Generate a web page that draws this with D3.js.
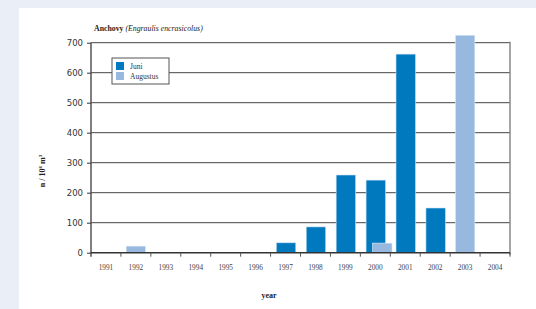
<!DOCTYPE html>
<html>
<head>
<meta charset="utf-8">
<script src="https://cdn.jsdelivr.net/npm/d3@7"></script>
<style>
  body { margin: 0; background: #e9eef7; }
  svg { display: block; }
  text { font-family: "Liberation Serif", "DejaVu Serif", serif; }
</style>
</head>
<body>
<div id="chart"></div>
<script>
const years = ["1991","1992","1993","1994","1995","1996","1997","1998","1999","2000","2001","2002","2003","2004"];
const juni = [0, 0, 0, 0, 0, 0, 33, 86, 259, 242, 662, 149, 0, 0];
const augustus = [0, 22, 0, 0, 0, 0, 0, 0, 0, 32, 0, 0, 725, 0];
const yTicks = [0, 100, 200, 300, 400, 500, 600, 700];
const seriesNames = ["Juni", "Augustus"];
const colors = ["#0079bf", "#97b9df"];

const W = 536, H = 309;
const plotLeft = 91, plotRight = 510, plotTop = 42.7, plotBottom = 252.7;

const svg = d3.select("#chart").append("svg")
  .attr("width", W).attr("height", H);

// white panel
svg.append("rect").attr("x", 19).attr("y", 8).attr("width", W - 19).attr("height", H - 8)
  .attr("fill", "#fff");

const x = d3.scaleBand().domain(years).range([plotLeft, plotRight]).paddingInner(0).paddingOuter(0);
const y = d3.scaleLinear().domain([0, 700]).range([plotBottom, plotTop]);
const barW = 19.5;

// gridlines
svg.append("g").selectAll("line").data(yTicks.slice(1)).enter().append("line")
  .attr("x1", plotLeft).attr("x2", plotRight)
  .attr("y1", d => y(d)).attr("y2", d => y(d))
  .attr("stroke", "#444").attr("stroke-width", 1);

// bars
const rows = years.map((yr, i) => ({ year: yr, juni: juni[i], aug: augustus[i] }));
const bars = svg.append("g");
bars.selectAll("rect.j").data(rows.filter(d => d.juni > 0)).enter().append("rect")
  .attr("x", d => x(d.year) + x.bandwidth() / 2 - barW / 2 + 0.5)
  .attr("y", d => y(d.juni))
  .attr("width", barW).attr("height", d => y(0) - y(d.juni))
  .attr("fill", colors[0]).attr("stroke", "#cfe2f3").attr("stroke-width", 0.6);
bars.selectAll("rect.a").data(rows.filter(d => d.aug > 0)).enter().append("rect")
  .attr("x", d => x(d.year) + x.bandwidth() / 2 - barW / 2 + (d.juni > 0 ? 7 : 0))
  .attr("y", d => y(d.aug))
  .attr("width", barW).attr("height", d => y(0) - y(d.aug))
  .attr("fill", colors[1]).attr("stroke", "#e4eef8").attr("stroke-width", 0.6);

// right border
svg.append("line").attr("x1", plotRight).attr("x2", plotRight).attr("y1", y(700) - 1).attr("y2", y(0) + 2)
  .attr("stroke", "#888").attr("stroke-width", 1.5);

// y axis
const yAxis = svg.append("g").attr("transform", `translate(${plotLeft},0)`)
  .call(d3.axisLeft(y).tickValues(yTicks).tickSize(4).tickPadding(4).tickFormat(d3.format("d")));
yAxis.select(".domain").attr("stroke", "#555").attr("stroke-width", 1.5)
  .attr("d", `M0,${y(700)}V${y(0) + 4}`);
yAxis.selectAll(".tick line").attr("stroke", "#333");
yAxis.selectAll("text").attr("fill", "#333")
  .style("font-family", "'DejaVu Sans', sans-serif").style("font-size", "8.5px");

// x axis
const xAxis = svg.append("g").attr("transform", `translate(0,${plotBottom})`)
  .call(d3.axisBottom(x).tickSize(0).tickPadding(12));
xAxis.select(".domain").attr("stroke", "#333").attr("stroke-width", 1.5)
  .attr("d", `M${plotLeft},0H${plotRight}`);
xAxis.selectAll("text").attr("fill", "#444").style("font-size", "7.3px");
svg.append("g").selectAll("line").data(years.slice(1).concat(["end"])).enter().append("line")
  .attr("x1", d => d === "end" ? plotRight : x(d)).attr("x2", d => d === "end" ? plotRight : x(d))
  .attr("y1", plotBottom).attr("y2", plotBottom + 4)
  .attr("stroke", "#555").attr("stroke-width", 1);

// title
const title = svg.append("text").attr("x", 94).attr("y", 31)
  .style("font-size", "7.8px").attr("fill", "#222").style("font-weight", "bold");
title.append("tspan").text("Anchovy ");
title.append("tspan").style("font-style", "italic").style("font-weight", "normal")
  .text("(Engraulis encrasicolus)");

// axis titles
svg.append("text").attr("transform", "translate(45,171) rotate(-90)")
  .attr("text-anchor", "middle").style("font-size", "8px").style("font-weight", "bold")
  .attr("fill", "#222")
  .html('n / 10<tspan dy="-3" font-size="5px">6</tspan><tspan dy="3"> m</tspan><tspan dy="-3" font-size="5px">3</tspan>');
svg.append("text").attr("x", 269).attr("y", 298).attr("text-anchor", "middle")
  .style("font-size", "8px").style("font-weight", "bold").attr("fill", "#222").text("year");

// legend
const lg = svg.append("g").attr("transform", "translate(112,58)");
lg.append("rect").attr("width", 57).attr("height", 26).attr("fill", "#fff")
  .attr("stroke", "#555").attr("stroke-width", 1);
seriesNames.forEach((name, i) => {
  lg.append("rect").attr("x", 4).attr("y", 4 + i * 10).attr("width", 8).attr("height", 8)
    .attr("fill", colors[i]);
  lg.append("text").attr("x", 18).attr("y", 11 + i * 10).style("font-size", "7.5px")
    .attr("fill", "#333").text(name);
});
</script>
</body>
</html>
